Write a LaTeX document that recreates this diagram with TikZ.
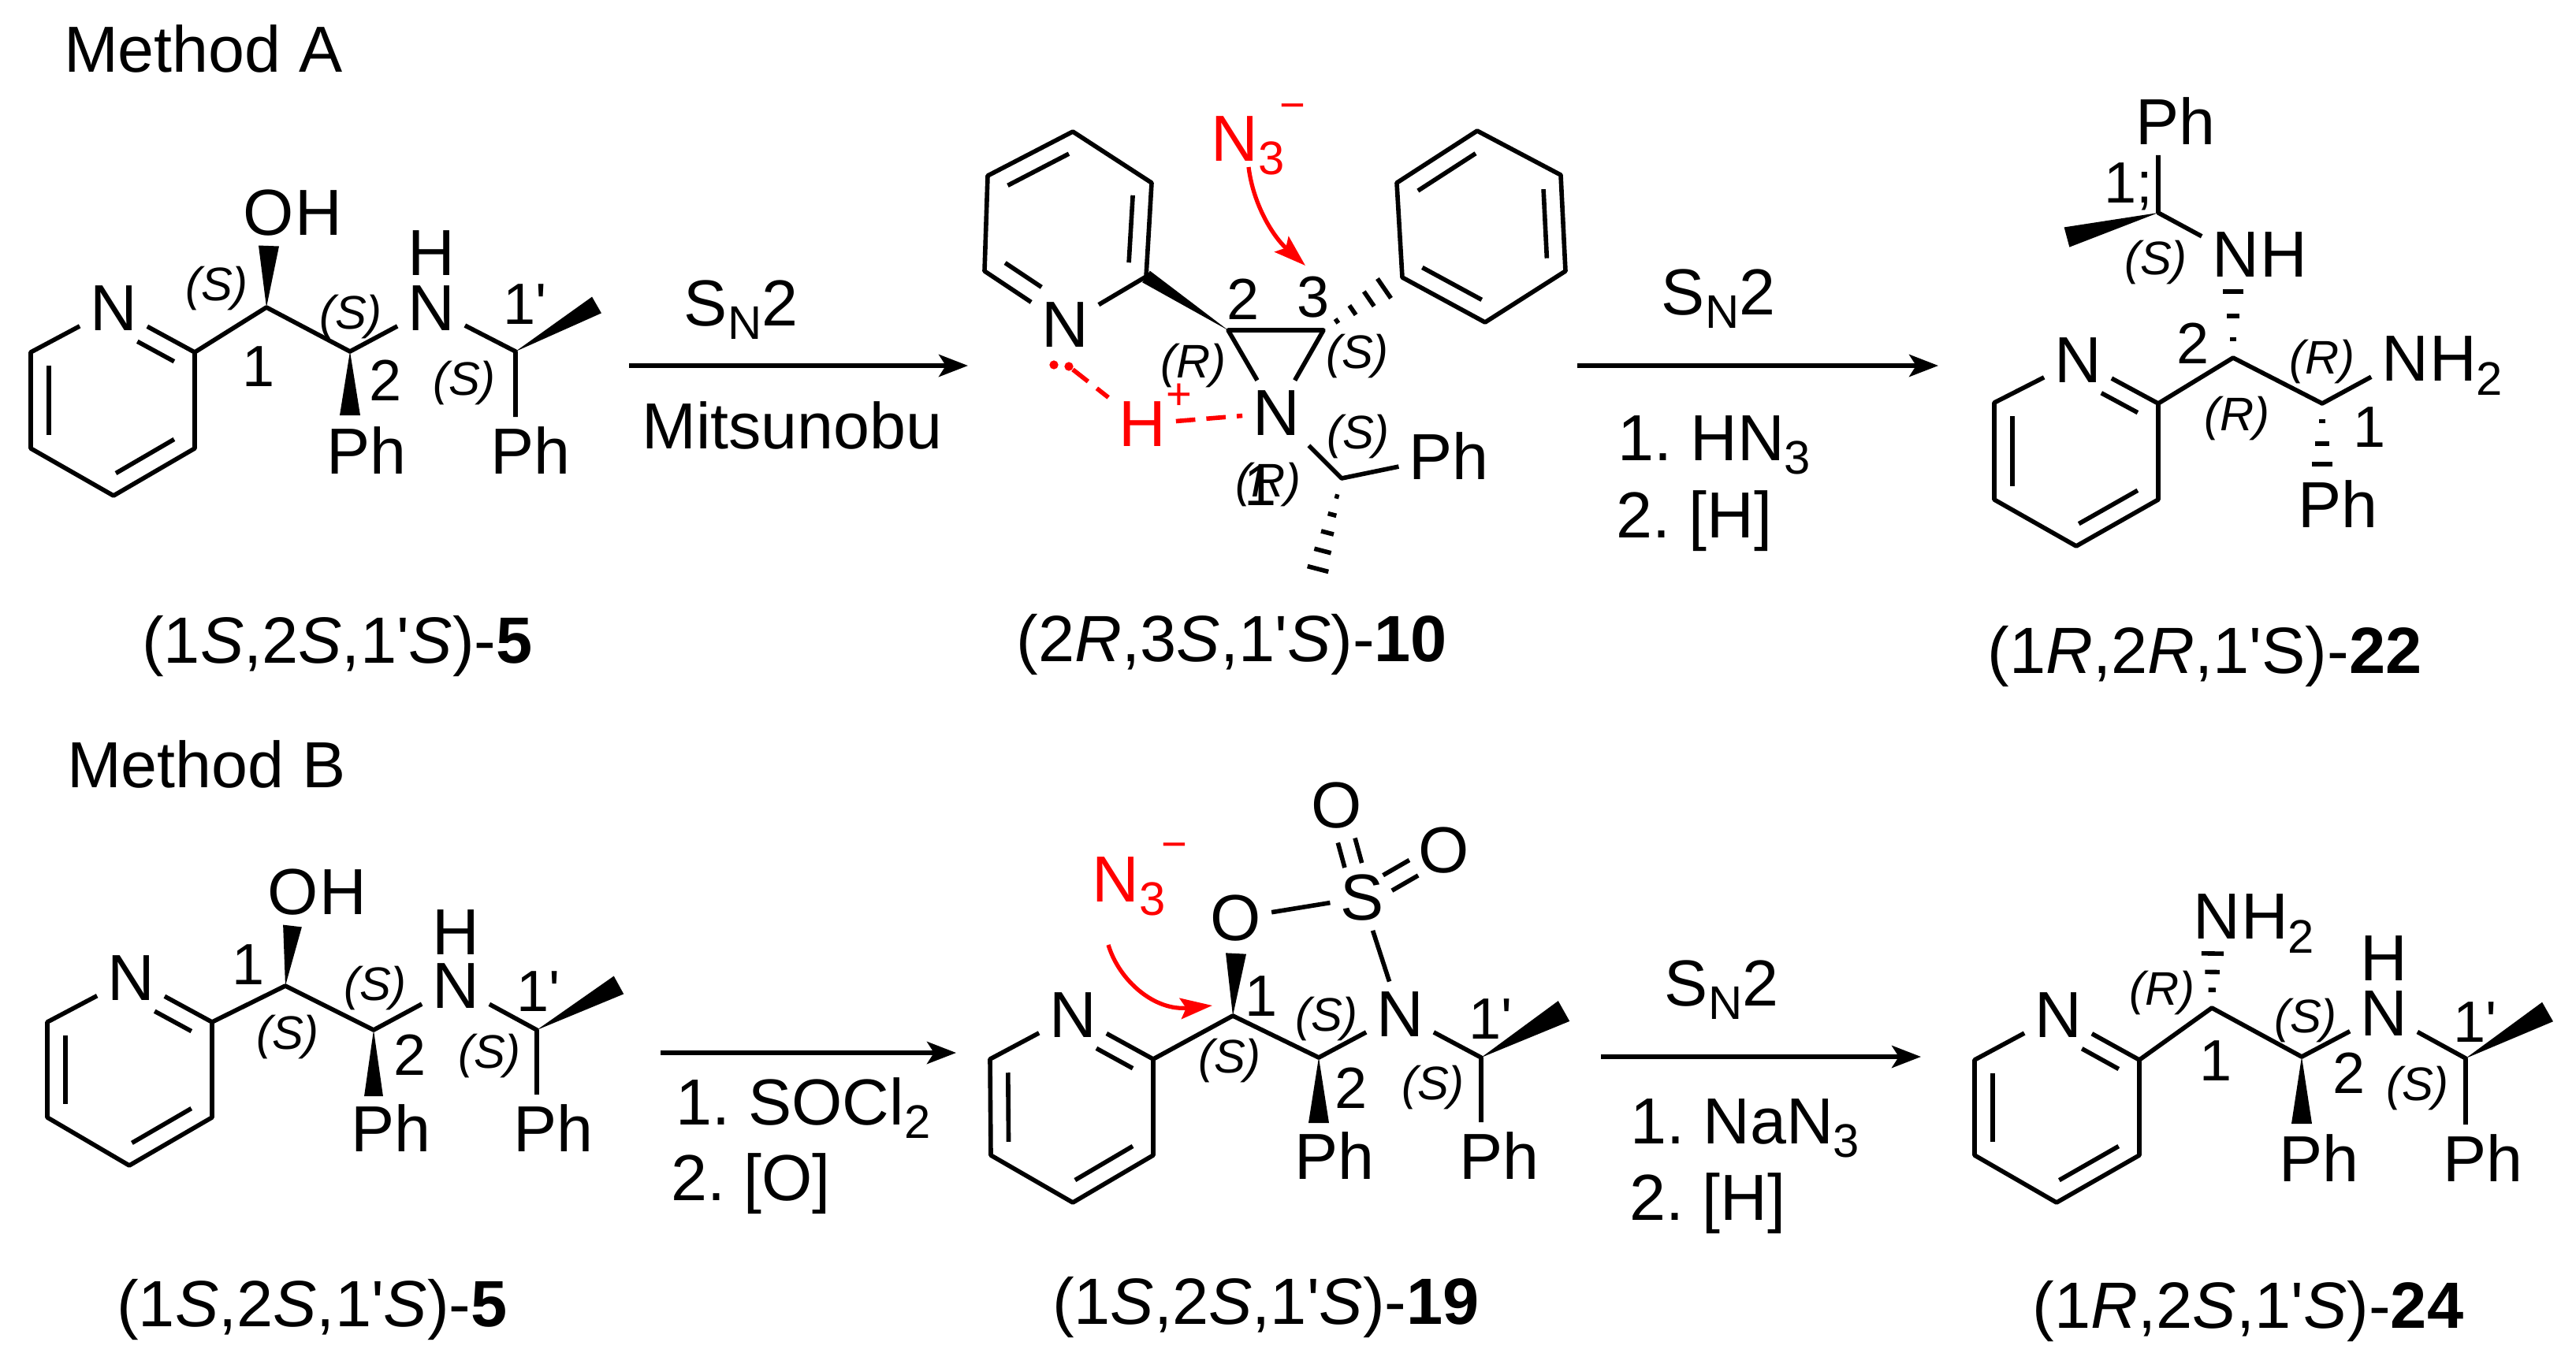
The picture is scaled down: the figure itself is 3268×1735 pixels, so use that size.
\documentclass[tikz,border=0pt]{standalone}
\usepackage{fontspec}
\setmainfont{Liberation Sans}
\newfontfamily\primefont{Liberation Sans}
\usetikzlibrary{arrows.meta, positioning, calc}
\frenchspacing

\newcommand{\pr}{{\primefont'}}
\newcommand{\subs}[1]{\raisebox{-5pt}{\fontsize{17}{17}\selectfont #1}}
% inner line of a ring double bond, pulled towards the ring centre #3
\newcommand{\innerbond}[5]{\draw[bond] ($(#1)!#4!(#2)!.22!(#3)$) -- ($(#1)!#5!(#2)!.22!(#3)$);}
% ring vertices #11..#15, ring nitrogen #1N
\newcommand{\pyridine}[1]{
    \coordinate (#1m) at ($(#11)!.5!(#14)$);
    \draw[bond] (#1N) -- (#11) -- (#12) -- (#13) -- (#14) -- (#15) -- (#1N);
    \innerbond{#11}{#12}{#1m}{.04}{.96}
    \innerbond{#13}{#14}{#1m}{.04}{.96}
    \innerbond{#15}{#1N}{#1m}{.04}{.62}
}
\newcommand{\wedgebond}[3]{\fill ($(#2)!#3!90:(#1)$) -- (#1) -- ($(#2)!#3!-90:(#1)$) -- cycle;}
\newcommand{\hashbond}[4]{\foreach \t in {#4}{
    \draw[hashline] ($(#1)!\t!(#2)!{\t*#3}!90:(#1)$) -- ($(#1)!\t!(#2)!{\t*#3}!-90:(#1)$);}}
\newcommand{\sobond}[4]{\foreach \s in {90,-90}{
    \draw[bond] ($(#1)!#3!(#2)!3.2pt!\s:(#2)$) -- ($(#1)!#4!(#2)!3.2pt!\s:(#2)$);}}

\begin{document}
\begin{tikzpicture}[
                x=0.01cm, y=-0.01cm,
                bond/.style={line width=1.6pt, line join=round},
                hashline/.style={line width=1.6pt},
                arrow/.style={-{Stealth[length=10.5pt, width=8pt, inset=2.5pt]}, line width=1.6pt},
                redarrow/.style={-{Stealth[length=11.5pt, width=7.5pt, inset=2pt]}, line width=1.5pt, red},
                redash/.style={line width=1.6pt, red, dash pattern=on 7pt off 4pt},
                lonepair/.style={circle, fill=red, inner sep=0pt, minimum size=3.2pt},
                atom/.style={inner sep=3.5pt, text depth=0pt, font=\fontsize{23.5}{23.5}\selectfont},
                cfg/.style={inner sep=0pt, font=\fontsize{17}{17}\selectfont\itshape},
                num/.style={inner sep=0pt, font=\fontsize{21}{21}\selectfont},
                txt/.style={inner sep=0pt, font=\fontsize{23.5}{23.5}\selectfont},
                capt/.style={inner sep=0pt, font=\fontsize{23.6}{23.6}\selectfont},
                charge/.style={inner sep=0pt, text=red, font=\fontsize{16}{16}\selectfont}
            ]
                \useasboundingbox (0,0) rectangle (3268,1735);
                \node[txt] (methoda) at (258,62) {Method A};
                \node[txt] (methodb) at (262,970) {Method B};

                % Method A, compound 5
                \coordinate (aa1) at (39,447);
                \coordinate (aa2) at (39,569);
                \coordinate (aa3) at (144,629);
                \coordinate (aa4) at (247,569);
                \coordinate (aa5) at (247,447);
                \node[atom] (aaN) at (144,391) {N};
                \pyridine{aa}
                \coordinate (aac1) at (338,390);
                \coordinate (aac2) at (444,446);
                \coordinate (aac3) at (654,446);
                \coordinate (aaw1) at (341,312);
                \coordinate (aaw2) at (444,527);
                \coordinate (aaw3) at (757,387);
                \node[atom] (aaO) at (341,270) {O};
                \node[atom, right=-7pt of aaO] (aaOH) {H};
                \node[atom] (aaNH) at (547,391) {N};
                \node[atom] (aaH) at (547,321) {H};
                \node[atom] (aaPh1) at (465,572) {Ph};
                \node[atom] (aaPh2) at (673,572) {Ph};
                \draw[bond] (aa5) -- (aac1) -- (aac2) -- (aaNH) -- (aac3) -- (aac3 |- aaPh2.north);
                \wedgebond{aac1}{aaw1}{3.7pt}
                \wedgebond{aac2}{aaw2}{3.7pt}
                \wedgebond{aac3}{aaw3}{3.4pt}
                \node[cfg] (aas1) at (275,366) {(S)};
                \node[cfg] (aas2) at (445,402) {(S)};
                \node[cfg] (aas3) at (589,486) {(S)};
                \node[num] (aan1) at (328,465) {1};
                \node[num] (aan2) at (489,483) {2};
                \node[num] (aan3) at (666,386) {1\pr};
                \node[capt] (aacap) at (428,820) {(1\textit{S},2\textit{S},1\pr\textit{S})-\textbf{5}};

                % first arrow
                \coordinate (ar1a) at (798,464);
                \coordinate (ar1b) at (1228,464);
                \draw[arrow] (ar1a) -- (ar1b);
                \node[txt, anchor=base] (ar1top) at (940,413) {S\subs{N}2};
                \node[txt] (ar1bot) at (1005,540) {Mitsunobu};

                % Method A, aziridine 10
                \coordinate (ab1) at (1454,351);
                \coordinate (ab2) at (1461,232);
                \coordinate (ab3) at (1361,167);
                \coordinate (ab4) at (1253,223);
                \coordinate (ab5) at (1249,344);
                \node[atom] (abN) at (1351,412) {N};
                \pyridine{ab}
                \coordinate (abc2) at (1558,419);
                \coordinate (abc3) at (1679,419);
                \coordinate (abc4) at (1702,607);
                \coordinate (abh1) at (1756,366);
                \coordinate (abh2) at (1672,722);
                \node[atom] (abNz) at (1619,524) {N};
                \node[atom] (abPh) at (1838,579) {Ph};
                \draw[bond] (abNz) -- (abc2) -- (abc3) -- (abNz);
                \draw[bond] (abNz) -- (abc4) -- (abPh);
                \wedgebond{abc2}{ab1}{2.5pt}
                \hashbond{abc3}{abh1}{4.3pt}{.22,.48,.75,1}
                \hashbond{abc4}{abh2}{3.9pt}{.2,.4,.6,.8,1}
                % phenyl
                \coordinate (abp1) at (1779,352);
                \coordinate (abp2) at (1772,232);
                \coordinate (abp3) at (1874,166);
                \coordinate (abp4) at (1980,222);
                \coordinate (abp5) at (1986,344);
                \coordinate (abp6) at (1884,409);
                \coordinate (abpm) at ($(abp1)!.5!(abp4)$);
                \draw[bond] (abp1) -- (abp2) -- (abp3) -- (abp4) -- (abp5) -- (abp6) -- cycle;
                \innerbond{abp2}{abp3}{abpm}{.04}{.96}
                \innerbond{abp4}{abp5}{abpm}{.04}{.96}
                \innerbond{abp6}{abp1}{abpm}{.04}{.96}
                \node[num] (abn2) at (1577,380) {2};
                \node[num] (abn3) at (1666,377) {3};
                \node[cfg] (abs1) at (1514,464) {(R)};
                \node[cfg] (abs2) at (1722,452) {(S)};
                \node[cfg] (abs3) at (1723,554) {(S)};
                \node[num] (abn4) at (1599,616) {1};
                \node[cfg] (abs4) at (1609,615) {(R)};
                % red part
                \node[atom, text=red] (abHp) at (1449,538) {H};
                \node[charge] (abplus) at (1496,503) {+};
                \node[lonepair] (ablp1) at (1337,463) {};
                \node[lonepair] (ablp2) at (1356,465) {};
                \draw[redash] (ablp2) -- (abHp);
                \draw[redash] (abHp) -- (abNz);
                \node[txt, anchor=base west, text=red] (abN3) at (1536,204) {N\subs{3}};
                \node[charge] (abminus) at (1640,142) {−};
                \coordinate (abca) at (1584,212);
                \coordinate (abcb) at (1656,337);
                \draw[redarrow] (abca) .. controls (1590,260) and (1615,300) .. (abcb);
                \node[capt] (abcap) at (1563,818) {(2\textit{R},3\textit{S},1\pr\textit{S})-\textbf{10}};

                % second arrow
                \coordinate (ar2a) at (2001,464);
                \coordinate (ar2b) at (2459,464);
                \draw[arrow] (ar2a) -- (ar2b);
                \node[txt, anchor=base] (ar2top) at (2180,399) {S\subs{N}2};
                \node[txt, anchor=base west] (ar2l1) at (2052,584) {1. HN\subs{3}};
                \node[txt, anchor=base west] (ar2l2) at (2050,682) {2. [H]};

                % Method A, compound 22
                \coordinate (ac1) at (2530,511);
                \coordinate (ac2) at (2530,634);
                \coordinate (ac3) at (2634,693);
                \coordinate (ac4) at (2738,634);
                \coordinate (ac5) at (2738,512);
                \node[atom] (acN) at (2636,457) {N};
                \pyridine{ac}
                \coordinate (acc1) at (2833,454);
                \coordinate (acc2) at (2946,512);
                \coordinate (acc3) at (2738,270);
                \coordinate (ach1) at (2833,370);
                \coordinate (ach2) at (2946,589);
                \coordinate (acw1) at (2622,301);
                \node[atom] (acPh1) at (2760,154) {Ph};
                \node[atom] (acNH) at (2836,323) {N};
                \node[atom, right=-7pt of acNH] (acNHb) {H};
                \node[atom] (acNa) at (3051,455) {N};
                \node[atom, right=-7pt of acNa] (acNb) {H\subs{2}};
                \node[atom] (acPh2) at (2966,640) {Ph};
                \draw[bond] (ac5) -- (acc1) -- (acc2) -- (acNa);
                \draw[bond] (acc3 |- acPh1.south) -- (acc3) -- (acNH);
                \wedgebond{acc3}{acw1}{3.7pt}
                \hashbond{acc1}{ach1}{3.8pt}{.28,.63,1}
                \hashbond{acc2}{ach2}{3.8pt}{.29,.66,1}
                \node[num] (acn1) at (2700,237) {1;};
                \node[num] (acn2) at (2782,436) {2};
                \node[num] (acn3) at (3006,542) {1};
                \node[cfg] (acs1) at (2735,333) {(S)};
                \node[cfg] (acs2) at (2946,459) {(R)};
                \node[cfg] (acs3) at (2838,531) {(R)};
                \node[capt] (accap) at (2797,833) {(1\textit{R},2\textit{R},1\pr S)-\textbf{22}};

                % Method B, compound 5
                \coordinate (ba1) at (60,1297);
                \coordinate (ba2) at (60,1418);
                \coordinate (ba3) at (164,1479);
                \coordinate (ba4) at (269,1418);
                \coordinate (ba5) at (269,1297);
                \node[atom] (baN) at (166,1241) {N};
                \pyridine{ba}
                \coordinate (bac1) at (362,1251);
                \coordinate (bac2) at (474,1307);
                \coordinate (bac3) at (681,1307);
                \coordinate (baw1) at (371,1175);
                \coordinate (baw2) at (474,1391);
                \coordinate (baw3) at (785,1250);
                \node[atom] (baO) at (372,1132) {O};
                \node[atom, right=-7pt of baO] (baOH) {H};
                \node[atom] (baNH) at (578,1251) {N};
                \node[atom] (baH) at (578,1183) {H};
                \node[atom] (baPh1) at (496,1432) {Ph};
                \node[atom] (baPh2) at (702,1432) {Ph};
                \draw[bond] (ba5) -- (bac1) -- (bac2) -- (baNH) -- (bac3) -- (bac3 |- baPh2.north);
                \wedgebond{bac1}{baw1}{3.4pt}
                \wedgebond{bac2}{baw2}{3.4pt}
                \wedgebond{bac3}{baw3}{3.7pt}
                \node[cfg] (bas1) at (365,1316) {(S)};
                \node[cfg] (bas2) at (476,1254) {(S)};
                \node[cfg] (bas3) at (621,1340) {(S)};
                \node[num] (ban1) at (315,1224) {1};
                \node[num] (ban2) at (520,1339) {2};
                \node[num] (ban3) at (683,1258) {1\pr};
                \node[capt] (bacap) at (396,1662) {(1\textit{S},2\textit{S},1\pr\textit{S})-\textbf{5}};

                % third arrow
                \coordinate (ar3a) at (838,1336);
                \coordinate (ar3b) at (1213,1336);
                \draw[arrow] (ar3a) -- (ar3b);
                \node[txt, anchor=base west] (ar3l1) at (857,1427) {1. SOCl\subs{2}};
                \node[txt, anchor=base west] (ar3l2) at (851,1523) {2. [O]};

                % Method B, sulfamidate 19
                \coordinate (bb1) at (1256,1344);
                \coordinate (bb2) at (1257,1466);
                \coordinate (bb3) at (1361,1526);
                \coordinate (bb4) at (1463,1466);
                \coordinate (bb5) at (1463,1344);
                \node[atom] (bbN) at (1361,1288) {N};
                \pyridine{bb}
                \coordinate (bbc1) at (1564,1289);
                \coordinate (bbc2) at (1673,1342);
                \coordinate (bbc3) at (1879,1342);
                \coordinate (bbw1) at (1568,1210);
                \coordinate (bbw2) at (1673,1425);
                \coordinate (bbw3) at (1984,1283);
                \node[atom] (bbO) at (1568,1165) {O};
                \node[atom] (bbS) at (1728,1139) {S};
                \node[atom] (bbOa) at (1696,1022) {O};
                \node[atom] (bbOb) at (1832,1079) {O};
                \node[atom] (bbNr) at (1776,1287) {N};
                \node[atom] (bbPh1) at (1693,1467) {Ph};
                \node[atom] (bbPh2) at (1902,1467) {Ph};
                \draw[bond] (bb5) -- (bbc1) -- (bbc2) -- (bbNr) -- (bbc3) -- (bbc3 |- bbPh2.north);
                \draw[bond] (bbO) -- (bbS) -- (bbNr);
                \sobond{bbS}{bbOa}{.35}{.62}
                \sobond{bbS}{bbOb}{.31}{.63}
                \wedgebond{bbc1}{bbw1}{3.7pt}
                \wedgebond{bbc2}{bbw2}{3.7pt}
                \wedgebond{bbc3}{bbw3}{4.2pt}
                \node[cfg] (bbs1) at (1560,1346) {(S)};
                \node[cfg] (bbs2) at (1683,1293) {(S)};
                \node[cfg] (bbs3) at (1818,1380) {(S)};
                \node[num] (bbn1) at (1600,1264) {1};
                \node[num] (bbn2) at (1714,1381) {2};
                \node[num] (bbn3) at (1891,1293) {1\pr};
                \node[txt, anchor=base west, text=red] (bbN3) at (1385,1144) {N\subs{3}};
                \node[charge] (bbminus) at (1490,1080) {−};
                \coordinate (bbca) at (1406,1199);
                \coordinate (bbcb) at (1538,1276);
                \draw[redarrow] (bbca) .. controls (1420,1245) and (1465,1283) .. (bbcb);
                \node[capt] (bbcap) at (1606,1659) {(1\textit{S},2\textit{S},1\pr\textit{S})-\textbf{19}};

                % fourth arrow
                \coordinate (ar4a) at (2031,1341);
                \coordinate (ar4b) at (2437,1341);
                \draw[arrow] (ar4a) -- (ar4b);
                \node[txt, anchor=base] (ar4top) at (2184,1276) {S\subs{N}2};
                \node[txt, anchor=base west] (ar4l1) at (2068,1451) {1. NaN\subs{3}};
                \node[txt, anchor=base west] (ar4l2) at (2067,1548) {2. [H]};

                % Method B, compound 24
                \coordinate (bc1) at (2505,1345);
                \coordinate (bc2) at (2505,1466);
                \coordinate (bc3) at (2609,1526);
                \coordinate (bc4) at (2714,1466);
                \coordinate (bc5) at (2714,1345);
                \node[atom] (bcN) at (2611,1288) {N};
                \pyridine{bc}
                \coordinate (bcc1) at (2806,1279);
                \coordinate (bcc2) at (2920,1341);
                \coordinate (bcc3) at (3128,1343);
                \coordinate (bch1) at (2807,1210);
                \coordinate (bcw1) at (2920,1426);
                \coordinate (bcw2) at (3232,1284);
                \node[atom] (bcNa) at (2812,1163) {N};
                \node[atom, right=-7pt of bcNa] (bcNb) {H\subs{2}};
                \node[atom] (bcNH) at (3024,1286) {N};
                \node[atom] (bcH) at (3024,1216) {H};
                \node[atom] (bcPh1) at (2942,1470) {Ph};
                \node[atom] (bcPh2) at (3150,1470) {Ph};
                \draw[bond] (bc5) -- (bcc1) -- (bcc2) -- (bcNH) -- (bcc3) -- (bcc3 |- bcPh2.north);
                \hashbond{bcc1}{bch1}{4pt}{.33,.66,1}
                \wedgebond{bcc2}{bcw1}{3.7pt}
                \wedgebond{bcc3}{bcw2}{4pt}
                \node[cfg] (bcs1) at (2743,1260) {(R)};
                \node[cfg] (bcs2) at (2925,1295) {(S)};
                \node[cfg] (bcs3) at (3067,1381) {(S)};
                \node[num] (bcn1) at (2811,1346) {1};
                \node[num] (bcn2) at (2980,1362) {2};
                \node[num] (bcn3) at (3140,1297) {1\pr};
                \node[capt] (bccap) at (2852,1664) {(1\textit{R},2\textit{S},1\pr\textit{S})-\textbf{24}};
            \end{tikzpicture}
\end{document}
